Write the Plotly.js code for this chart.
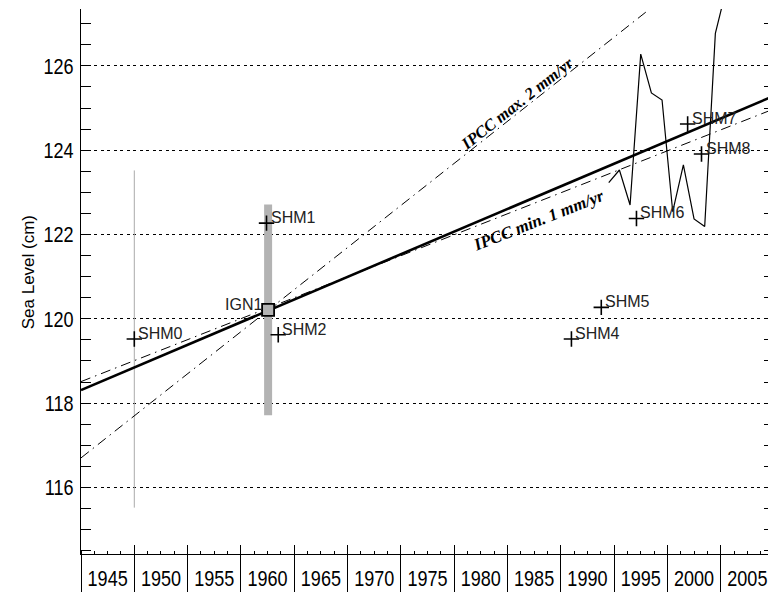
<!DOCTYPE html>
<html>
<head>
<meta charset="utf-8">
<script src="https://cdn.plot.ly/plotly-3.0.1.min.js"></script>
<style>
html,body{margin:0;padding:0;overflow:hidden;background:#fff;}
#chart{width:776px;height:592px;}
</style>
</head>
<body>
<div id="chart"></div>
<script>
// ---- data ----
var decadeLabels = ['1945','1950','1955','1960','1965','1970','1975','1980','1985','1990','1995','2000','2005'];
var labelYears = [1945,1950,1955,1960,1965,1970,1975,1980,1985,1990,1995,2000,2005];

var benchNames = ['SHM0','SHM1','SHM2','SHM4','SHM5','SHM6','SHM7','SHM8'];
var benchYears = [1947.5,1959.9,1961.0,1988.5,1991.3,1994.6,1999.4,2000.7];
var benchLevel = [119.52,122.27,119.62,119.52,120.27,122.38,124.62,123.91];

var shm0Year = [1947.5];
var shm0Level = [119.52];
var shm0Err = [4.0];

var ignYear = [1960.05];
var ignLevel = [120.21];
var ignErr = [2.5];

var gaugeYears = [1992,1993,1994,1995,1996,1997,1998,1999,2000,2001,2002,2003];
var gaugeLevel = [123.23,123.53,122.70,126.28,125.36,125.19,122.54,123.65,122.37,122.19,126.77,127.8];

var trendYears = [1942.5,2007.5];
var trendLevel = [118.31,125.29];
var ipccMaxYears = [1942.5,1995.5];
var ipccMaxLevel = [116.70,127.28];
var ipccMinYears = [1942.5,2007.5];
var ipccMinLevel = [118.51,124.98];

var xRange = [1942.5,2007.5];
var yRange = [114.42,127.35];

// ---- build ----
var sepVals = [];
for (var s = xRange[0]; s <= xRange[1] + 1e-9; s += 5) sepVals.push(s);
var minorVals = [];
for (var m = xRange[0]; m <= xRange[1] + 1e-9; m += 1.25) minorVals.push(m);

var sans = '"Liberation Sans", Arial, Helvetica, sans-serif';
var serif = '"Liberation Serif", "Times New Roman", serif';
var dashdot = '10px,5px,1.5px,5px';

var traces = [
  {x: shm0Year, y: shm0Level, type:'scatter', mode:'markers', marker:{size:1, color:'rgba(0,0,0,0)'},
   error_y:{type:'data', array:shm0Err, visible:true, thickness:1, width:0, color:'#aaaaaa'}, hoverinfo:'skip'},
  {x: ignYear, y: ignLevel, type:'scatter', mode:'markers', marker:{size:1, color:'rgba(0,0,0,0)'},
   error_y:{type:'data', array:ignErr, visible:true, thickness:8, width:0, color:'#b3b3b3'}, hoverinfo:'skip'},
  {x: ipccMaxYears, y: ipccMaxLevel, type:'scatter', mode:'lines', line:{color:'#000', width:1, dash:dashdot}},
  {x: ipccMinYears, y: ipccMinLevel, type:'scatter', mode:'lines', line:{color:'#000', width:1, dash:dashdot}},
  {x: trendYears, y: trendLevel, type:'scatter', mode:'lines', line:{color:'#000', width:2.6}},
  {x: gaugeYears, y: gaugeLevel, type:'scatter', mode:'lines', line:{color:'#000', width:1.2}},
  {x: benchYears, y: benchLevel, type:'scatter', mode:'markers',
   marker:{symbol:'cross-thin', size:11, line:{color:'#000', width:1.6}}},
  {x: ignYear, y: ignLevel, type:'scatter', mode:'markers',
   marker:{symbol:'square', size:12, color:'#b3b3b3', line:{color:'#000', width:1.8}}}
];

var annotations = [];
for (var i = 0; i < benchNames.length; i++) {
  annotations.push({x: benchYears[i], y: benchLevel[i], xref:'x', yref:'y', text: benchNames[i],
    showarrow:false, xanchor:'left', yanchor:'bottom', xshift:2, yshift:-5,
    font:{family: sans, size:16, color:'#222'}});
}
annotations.push({x: ignYear[0], y: ignLevel[0], xref:'x', yref:'y', text:'IGN1', showarrow:false,
  xanchor:'right', yanchor:'bottom', xshift:-4, yshift:-5, font:{family: sans, size:16, color:'#222'}});
annotations.push({x: 1983.4, y: 125.11, xref:'x', yref:'y', text:'<b><i>IPCC max. 2 mm/yr</i></b>',
  showarrow:false, textangle:-38.3, font:{family:serif, size:16.5, color:'#000'}});
annotations.push({x: 1985.4, y: 122.33, xref:'x', yref:'y', text:'<b><i>IPCC min. 1 mm/yr</i></b>',
  showarrow:false, textangle:-21.6, font:{family:serif, size:17, color:'#000'}});
annotations.push({x: -0.093, y: 0.517, xref:'paper', yref:'paper', text:'Sea Level (cm)', showarrow:false,
  textangle:-90, font:{family: sans, size:17, color:'#000'}});

var layout = {
  width: 776, height: 592,
  margin: {l:81, r:2, t:9, b:38, pad:0},
  paper_bgcolor:'#fff', plot_bgcolor:'#fff',
  showlegend:false,
  font:{family: sans, color:'#000'},
  xaxis: {range: xRange, showline:true, linecolor:'#000', linewidth:1, showgrid:false, zeroline:false,
    tickmode:'array', tickvals: labelYears, ticktext: decadeLabels, ticks:'', tickfont:{family:sans, size:22, color:'#000'},
    minor:{tickmode:'array', tickvals: minorVals, ticks:'inside', ticklen:3, tickcolor:'#000', tickwidth:1, showgrid:false},
    ticklabelstandoff: 5, fixedrange:true},
  xaxis2: {range: xRange, overlaying:'x', anchor:'y', side:'bottom', showline:false, showgrid:false, zeroline:false,
    tickmode:'array', tickvals: sepVals, ticks:'outside', ticklen:38, tickcolor:'#000', tickwidth:1, showticklabels:false},
  xaxis3: {range: xRange, overlaying:'x', anchor:'y', side:'bottom', showline:false, showgrid:false, zeroline:false,
    tickmode:'array', tickvals: sepVals, ticks:'inside', ticklen:9, tickcolor:'#000', tickwidth:1, showticklabels:false},
  yaxis: {range: yRange, showline:true, linecolor:'#000', linewidth:1, mirror:'ticks', zeroline:false,
    tickmode:'linear', tick0:0, dtick:2, ticks:'inside', ticklen:10, tickcolor:'#000', tickwidth:1,
    tickfont:{family:sans, size:22, color:'#000'}, ticklabelstandoff: 2,
    showgrid:true, gridcolor:'#000', gridwidth:1, griddash:'3px,3.5px',
    minor:{tick0:0, dtick:0.5, ticks:'inside', ticklen:10, tickcolor:'#000', tickwidth:1, showgrid:false},
    title:{text:''}},
  annotations: annotations
};

// invisible traces that bind the overlay axes used for the tick separators
traces.push({x: xRange, y: yRange, xaxis:'x2', type:'scatter', mode:'markers', marker:{opacity:0}, hoverinfo:'skip'});
traces.push({x: xRange, y: yRange, xaxis:'x3', type:'scatter', mode:'markers', marker:{opacity:0}, hoverinfo:'skip'});

Plotly.newPlot('chart', traces, layout, {staticPlot:true, displayModeBar:false}).then(function(gd){
  // condense the tick labels (the reference uses a narrow Helvetica)
  var texts = gd.querySelectorAll('.xtick text, .ytick text');
  for (var k = 0; k < texts.length; k++) {
    var t = texts[k];
    var w = t.getComputedTextLength();
    if (w > 0) {
      t.setAttribute('textLength', (w * 0.82).toFixed(2));
      t.setAttribute('lengthAdjust', 'spacingAndGlyphs');
    }
  }
});
</script>
</body>
</html>
